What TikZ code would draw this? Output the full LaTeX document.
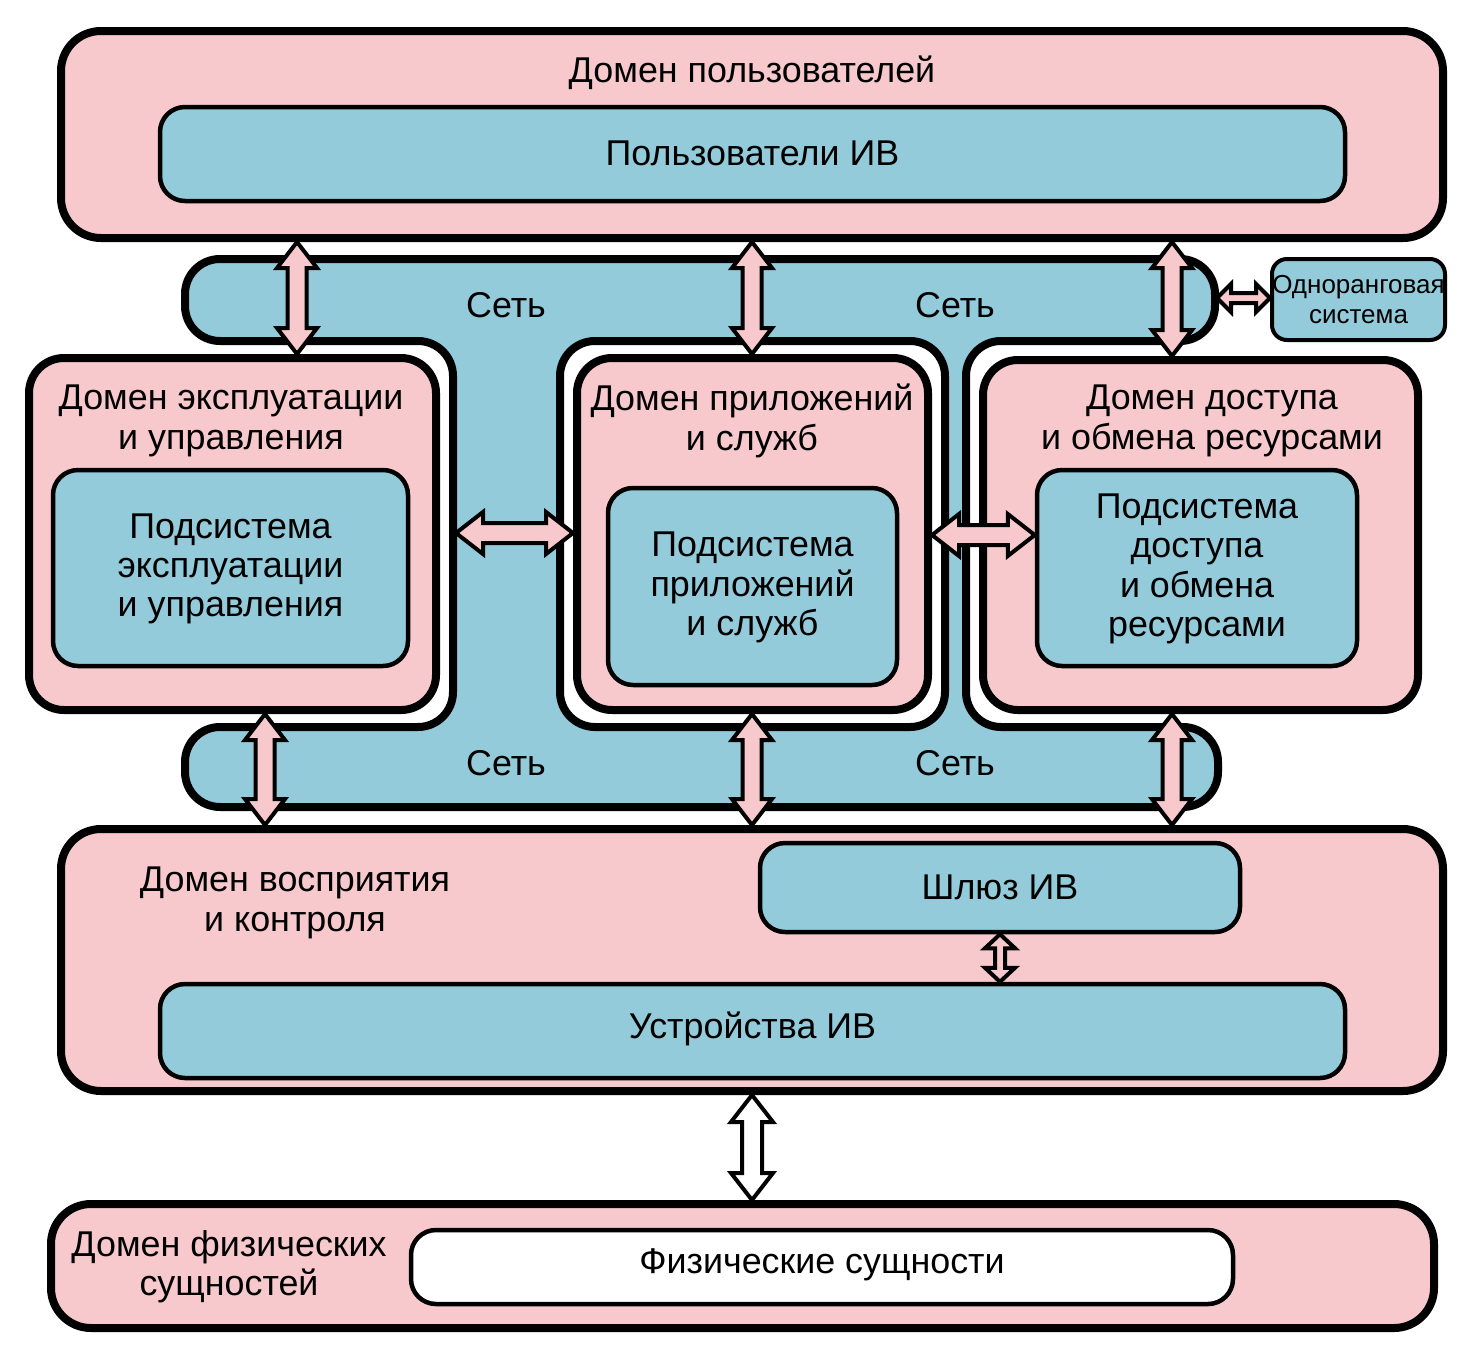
\documentclass[tikz,border=0pt]{standalone}
\usepackage{fontspec}
\setmainfont{Liberation Sans}
\usetikzlibrary{calc}
\usetikzlibrary{positioning}
\usetikzlibrary{fit}

\definecolor{dompink}{RGB}{247,201,205}
\definecolor{sysblue}{RGB}{147,203,218}

% double block arrow: [style]{from}{to}{head length}{head half width}{shaft half width}
\newcommand{\biarrow}[6][]{%
  \draw[blockarrow,#1] (#2)
    -- ($(#2)!#4!(#3)!#5!90:(#3)$) -- ($(#2)!#4!(#3)!#6!90:(#3)$)
    -- ($(#3)!#4!(#2)!#6!-90:(#2)$) -- ($(#3)!#4!(#2)!#5!-90:(#2)$)
    -- (#3)
    -- ($(#3)!#4!(#2)!#5!90:(#2)$) -- ($(#3)!#4!(#2)!#6!90:(#2)$)
    -- ($(#2)!#4!(#3)!#6!-90:(#3)$) -- ($(#2)!#4!(#3)!#5!-90:(#3)$)
    -- cycle;}

\begin{document}
\begin{tikzpicture}[x=0.1mm,y=-0.1mm,line join=round,
    every node/.style={font=\fontsize{10.2}{11.2}\selectfont, align=center},
    dombox/.style={draw, line width=0.8mm, fill=dompink, rounded corners=3.5mm, inner sep=0pt},
    subsys/.style={draw, line width=0.45mm, fill=sysblue, rounded corners=2.5mm, inner sep=0pt},
    netw/.style={draw, line width=0.8mm, fill=sysblue, rounded corners=3.5mm, even odd rule},
    blockarrow/.style={draw, line width=0.4mm, fill=dompink, line join=miter}]
    \useasboundingbox (0,0) rectangle (1473,1349);

    % network with holes for the three domains
    \draw[netw] (185,259) -- (1215,259) -- (1215,341) -- (966,341) -- (966,727)
        -- (1218,727) -- (1218,807) -- (185,807) -- (185,727) -- (453,727)
        -- (453,341) -- (185,341) -- cycle
        (560,341) -- (945,341) -- (945,727) -- (560,727) -- cycle;
    \node (net1) at (506,305) {Сеть};
    \node (net2) at (955,305) {Сеть};
    \node (net3) at (506,763) {Сеть};
    \node (net4) at (955,763) {Сеть};

    % users
    \node[dombox, rounded corners=4mm, fit={(61,31) (1443,238)}] (user) {};
    \node (usertitle) at (752,73) {Домен пользователей};
    \node[subsys, fit={(160,107) (1345,201)}] (usersys) {};
    \node (usertext) at ($(usersys.center)+(0,-1)$) {Пользователи ИВ};

    % peer system
    \node[subsys, line width=0.4mm, rounded corners=1.5mm, fit={(1272,259) (1445,340)}] (peer) {};
    \node[font=\fontsize{7.4}{8.6}\selectfont] (peertext) at (peer.center) {Одноранговая\\система};

    % operation and management
    \node[dombox, fit={(29,358) (436,710)}] (opdom) {};
    \node (optitle) at (231,421) {Домен эксплуатации\\и управления};
    \node[subsys, fit={(53,470) (408,666)}] (opsys) {};
    \node (optext) at ($(opsys.center)+(0,1)$) {Подсистема\\эксплуатации\\и управления};

    % applications and services
    \node[dombox, fit={(577,358) (928,710)}] (appdom) {};
    \node (apptitle) at (752,421) {Домен приложений\\и служб};
    \node[subsys, fit={(608,488) (897,685)}] (appsys) {};
    \node (apptext) at ($(appsys.center)+(0,1)$) {Подсистема\\приложений\\и служб};

    % resource access and exchange
    \node[dombox, fit={(983,360) (1418,710)}] (accdom) {};
    \node (acctitle) at (1212,421) {Домен доступа\\и обмена ресурсами};
    \node[subsys, fit={(1037,470) (1357,666)}] (accsys) {};
    \node (acctext) at ($(accsys.center)+(0,1)$) {Подсистема\\доступа\\и обмена\\ресурсами};

    % sensing and control
    \node[dombox, rounded corners=4mm, fit={(61,829) (1443,1091)}] (percdom) {};
    \node (perctitle) at (295,903) {Домен восприятия\\и контроля};
    \node[subsys, fit={(760,843) (1240,932)}] (gateway) {};
    \node (gatetext) at (gateway.center) {Шлюз ИВ};
    \node[subsys, fit={(160,984) (1345,1078)}] (devices) {};
    \node (devtext) at ($(devices.center)+(0,-2)$) {Устройства ИВ};

    % physical entities
    \node[dombox, rounded corners=4mm, fit={(51,1204) (1434,1328)}] (physdom) {};
    \node (phystitle) at (229,1267) {Домен физических\\сущностей};
    \node[subsys, fill=white, fit={(411,1230) (1233,1304)}] (things) {};
    \node (thingstext) at ($(things.center)+(0,-2)$) {Физические сущности};

    % arrows
    \coordinate (colA) at (297,0);
    \coordinate (colB) at (265,0);
    \coordinate (colM) at (752,0);
    \coordinate (colR) at (1172,0);
    \coordinate (colG) at (1000,0);
    \coordinate (ringL) at (456,533);
    \coordinate (rowR) at (0,535);
    \coordinate (rowP) at (0,298);
    \coordinate (netR) at (1217,298);

    \biarrow{user.south -| colA}{opdom.north -| colA}{2.6mm}{2mm}{0.95mm}
    \biarrow{user.south -| colM}{appdom.north -| colM}{2.6mm}{2mm}{0.95mm}
    \biarrow{user.south -| colR}{accdom.north -| colR}{2.6mm}{2mm}{0.95mm}
    \biarrow{opdom.south -| colB}{percdom.north -| colB}{2.6mm}{2mm}{0.95mm}
    \biarrow{appdom.south -| colM}{percdom.north -| colM}{2.6mm}{2mm}{0.95mm}
    \biarrow{accdom.south -| colR}{percdom.north -| colR}{2.6mm}{2mm}{0.95mm}
    \biarrow{ringL}{appdom.west |- ringL}{2.7mm}{2.1mm}{1mm}
    \biarrow{appdom.east |- rowR}{accsys.west |- rowR}{2.7mm}{2.1mm}{1mm}
    \biarrow{netR}{peer.west |- rowP}{1.4mm}{1.4mm}{0.5mm}
    \biarrow{gateway.south -| colG}{devices.north -| colG}{1.4mm}{1.5mm}{0.5mm}
    \biarrow[fill=white]{percdom.south -| colM}{physdom.north -| colM}{2.7mm}{2.1mm}{1mm}
\end{tikzpicture}
\end{document}
